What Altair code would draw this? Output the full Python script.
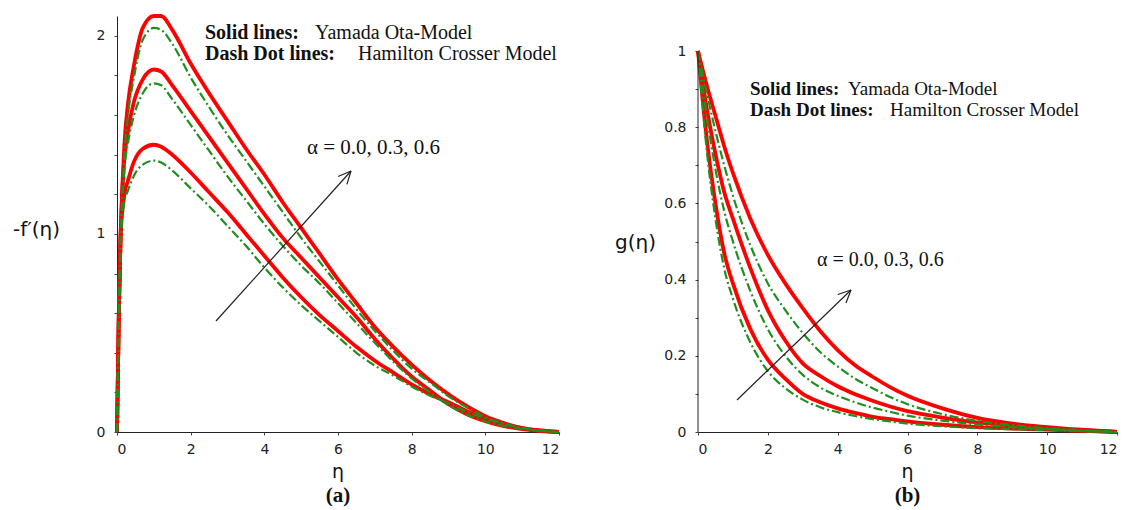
import math
import altair as alt
import pandas as pd

# ---------------- data: panel (a)  -f'(eta) ----------------
eta_a = [0, 0.05, 0.1, 0.2, 0.3, 0.45, 0.7, 1.0, 1.2, 1.5, 2, 2.5, 3, 3.5, 4, 4.5,
         5, 5.5, 6, 6.5, 7, 7.5, 8, 8.5, 9, 9.5, 10, 10.5, 11, 11.5, 12]
fp_yo_00 = [0, 0.6, 1.0, 1.2, 1.27, 1.36, 1.43, 1.45, 1.44, 1.40, 1.31, 1.21, 1.11, 1.00, 0.89, 0.78,
            0.68, 0.59, 0.51, 0.43, 0.36, 0.30, 0.24, 0.19, 0.15, 0.105, 0.07, 0.04, 0.02, 0.007, 0]
fp_yo_03 = [0, 0.6, 1.0, 1.38, 1.52, 1.66, 1.78, 1.83, 1.82, 1.75, 1.62, 1.49, 1.36, 1.23, 1.10, 0.98,
            0.88, 0.78, 0.68, 0.58, 0.47, 0.37, 0.28, 0.21, 0.14, 0.09, 0.055, 0.03, 0.015, 0.005, 0]
fp_yo_06 = [0, 0.6, 1.0, 1.45, 1.66, 1.84, 2.04, 2.10, 2.10, 2.03, 1.86, 1.71, 1.57, 1.43, 1.30, 1.16,
            1.03, 0.90, 0.77, 0.65, 0.53, 0.43, 0.34, 0.26, 0.19, 0.13, 0.08, 0.045, 0.02, 0.008, 0]
fp_hc_00 = [0, 0.55, 0.95, 1.16, 1.22, 1.29, 1.35, 1.37, 1.36, 1.32, 1.23, 1.14, 1.04, 0.94, 0.83, 0.73,
            0.64, 0.56, 0.48, 0.40, 0.335, 0.285, 0.23, 0.183, 0.145, 0.102, 0.068, 0.04, 0.02, 0.007, 0]
fp_hc_03 = [0, 0.55, 0.95, 1.32, 1.46, 1.59, 1.71, 1.76, 1.75, 1.68, 1.55, 1.42, 1.29, 1.17, 1.05, 0.94,
            0.84, 0.75, 0.65, 0.55, 0.45, 0.355, 0.27, 0.20, 0.135, 0.087, 0.053, 0.03, 0.015, 0.005, 0]
fp_hc_06 = [0, 0.55, 0.95, 1.39, 1.60, 1.78, 1.98, 2.04, 2.03, 1.96, 1.79, 1.64, 1.50, 1.37, 1.24, 1.11,
            0.98, 0.86, 0.74, 0.62, 0.51, 0.41, 0.32, 0.25, 0.18, 0.125, 0.075, 0.043, 0.02, 0.008, 0]

# ---------------- data: panel (b)  g(eta) ----------------
eta_b = [0, 0.25, 0.5, 0.75, 1, 1.5, 2, 2.5, 3, 3.5, 4, 4.5, 5, 5.5, 6, 7, 8, 9, 10, 11, 12]
g_yo_00 = [1, 0.77, 0.60, 0.47, 0.39, 0.27, 0.19, 0.14, 0.10, 0.078, 0.062, 0.05, 0.04, 0.034, 0.028,
           0.019, 0.013, 0.009, 0.006, 0.003, 0]
g_yo_03 = [1, 0.85, 0.73, 0.63, 0.56, 0.43, 0.32, 0.24, 0.18, 0.147, 0.12, 0.099, 0.082, 0.067, 0.055,
           0.038, 0.025, 0.017, 0.01, 0.004, 0]
g_yo_06 = [1, 0.91, 0.83, 0.75, 0.68, 0.56, 0.465, 0.39, 0.325, 0.265, 0.215, 0.175, 0.145, 0.118, 0.095,
           0.062, 0.037, 0.022, 0.013, 0.006, 0]
g_hc_00 = [1, 0.74, 0.56, 0.43, 0.35, 0.235, 0.16, 0.115, 0.085, 0.065, 0.052, 0.042, 0.034, 0.028, 0.022,
           0.015, 0.01, 0.007, 0.005, 0.002, 0]
g_hc_03 = [1, 0.83, 0.69, 0.58, 0.50, 0.37, 0.27, 0.20, 0.15, 0.117, 0.095, 0.078, 0.064, 0.053, 0.043,
           0.03, 0.02, 0.013, 0.008, 0.003, 0]
g_hc_06 = [1, 0.89, 0.79, 0.70, 0.62, 0.49, 0.39, 0.32, 0.26, 0.21, 0.172, 0.14, 0.115, 0.092, 0.073,
           0.047, 0.029, 0.018, 0.01, 0.005, 0]

x_ticks = list(range(0, 13))
ya_ticks = [round(i * 0.1, 1) for i in range(0, 21)]
yb_ticks = [round(i * 0.1, 1) for i in range(0, 11)]

legend_bold = ["Solid lines:", "Dash Dot lines:"]
legend_norm = ["Yamada Ota-Model", "Hamilton Crosser Model"]
alpha_label = "\u03b1 = 0.0, 0.3, 0.6"
ytitle_a = "-f\u2032(\u03b7)"
ytitle_b = "g(\u03b7)"
xtitle = "\u03b7"

RED = "#ff0000"
GREEN = "#1f8f1f"
SERIF = "Liberation Serif"
SANS = "DejaVu Sans"


def long_df(eta, series):
    rows = []
    for name, vals in series.items():
        for e, v in zip(eta, vals):
            rows.append({"eta": e, "value": v, "series": name})
    return pd.DataFrame(rows)


def text_layer(x, y, s, size, bold=False, align="left", baseline="alphabetic", font=SERIF):
    return alt.Chart(pd.DataFrame({"t": [s]})).mark_text(
        font=font, fontSize=size, fontWeight="bold" if bold else "normal",
        align=align, baseline=baseline, color="#111"
    ).encode(x=alt.value(x), y=alt.value(y), text="t:N")


def arrow_layers(x0, y0, x1, y1, head=14, ang=25):
    dx, dy = x1 - x0, y1 - y0
    L = math.hypot(dx, dy)
    ux, uy = -dx / L, -dy / L
    layers = [alt.Chart(pd.DataFrame({"a": [0]})).mark_rule(color="#222", strokeWidth=1.2).encode(
        x=alt.value(x0), y=alt.value(y0), x2=alt.value(x1), y2=alt.value(y1))]
    for s in (1, -1):
        a = math.radians(ang * s)
        hx = ux * math.cos(a) - uy * math.sin(a)
        hy = ux * math.sin(a) + uy * math.cos(a)
        layers.append(alt.Chart(pd.DataFrame({"a": [0]})).mark_rule(color="#222", strokeWidth=1.2).encode(
            x=alt.value(x1), y=alt.value(y1), x2=alt.value(x1 + head * hx), y2=alt.value(y1 + head * hy)))
    return layers


H = 416


def panel(df_yo, df_hc, width, ymax, y_ticks, label_mult, ytitle, title_x, title_y, letter, show_domain):
    xenc = alt.X("eta:Q", scale=alt.Scale(domain=[0, 12], nice=False),
                 axis=alt.Axis(values=x_ticks, format="d", tickSize=3, labelPadding=7,
                               labelExpr="datum.value % 2 == 0 ? datum.label : ''", title=None))
    yenc = alt.Y("value:Q", scale=alt.Scale(domain=[0, ymax], nice=False, zero=True),
                 axis=alt.Axis(values=y_ticks, format="~g", tickSize=3, labelPadding=9,
                               labelExpr="abs(datum.value*%d - round(datum.value*%d)) < 0.001 ? datum.label : ''" % (label_mult, label_mult),
                               title=None, domain=show_domain))
    red = alt.Chart(df_yo).mark_line(color=RED, strokeWidth=3.8, interpolate="monotone").encode(
        x=xenc, y=yenc, detail="series:N")
    green = alt.Chart(df_hc).mark_line(color=GREEN, strokeWidth=2.2, strokeDash=[9, 3, 2, 3],
                                       interpolate="monotone").encode(
        x="eta:Q", y="value:Q", detail="series:N")
    return [
        red, green,
        text_layer(title_x, title_y, ytitle, 20, align="left", baseline="middle", font=SANS),
        text_layer(width / 2, H + 40, xtitle, 19, align="center", baseline="middle", font=SANS),
        text_layer(width / 2, 480, letter, 21, bold=True, align="center", baseline="middle"),
    ]


df_a_yo = long_df(eta_a, {"0.0": fp_yo_00, "0.3": fp_yo_03, "0.6": fp_yo_06})
df_a_hc = long_df(eta_a, {"0.0": fp_hc_00, "0.3": fp_hc_03, "0.6": fp_hc_06})
df_b_yo = long_df(eta_b, {"0.0": g_yo_00, "0.3": g_yo_03, "0.6": g_yo_06})
df_b_hc = long_df(eta_b, {"0.0": g_hc_00, "0.3": g_hc_03, "0.6": g_hc_06})

WA, WB = 442, 419
YMAX_B = 1.0919

left_layers = panel(df_a_yo, df_a_hc, WA, 2.1, ya_ticks, 2, ytitle_a, -104, 214, "(a)", True)
left_layers += [
    text_layer(88, 23, legend_bold[0], 20, bold=True),
    text_layer(198, 23, legend_norm[0], 20),
    text_layer(88, 44, legend_bold[1], 20, bold=True),
    text_layer(241, 44, legend_norm[1], 20),
    text_layer(190, 132, alpha_label, 21, baseline="middle"),
]
left_layers += arrow_layers(99, 305, 234, 155)
left = alt.layer(*left_layers).properties(width=WA, height=H)

right_layers = panel(df_b_yo, df_b_hc, WB, YMAX_B, yb_ticks, 5, ytitle_b, -83, 227, "(b)", False)
y_one = H * (1 - 1 / YMAX_B)
right_layers += [
    alt.Chart(pd.DataFrame({"a": [0]})).mark_rule(color="#222", strokeWidth=1).encode(
        x=alt.value(0), y=alt.value(H), y2=alt.value(y_one)),
    text_layer(52, 79, legend_bold[0], 19, bold=True),
    text_layer(150, 79, legend_norm[0], 19),
    text_layer(52, 100, legend_bold[1], 19, bold=True),
    text_layer(192, 100, legend_norm[1], 19),
    text_layer(119, 244, alpha_label, 20, baseline="middle"),
]
right_layers += arrow_layers(39, 384, 153, 274)
right = alt.layer(*right_layers).properties(width=WB, height=H)

chart = alt.hconcat(left, right, spacing=139, bounds="flush").properties(
    padding={"left": 5, "top": 0, "right": 5, "bottom": 5}
).configure_view(
    stroke=None
).configure_axis(
    grid=False, labelFont=SANS, labelFontSize=14, labelColor="#222",
    tickColor="#444", domainColor="#222", domainWidth=1
)

chart.save("out.html", embed_options={"renderer": "svg", "actions": False})
